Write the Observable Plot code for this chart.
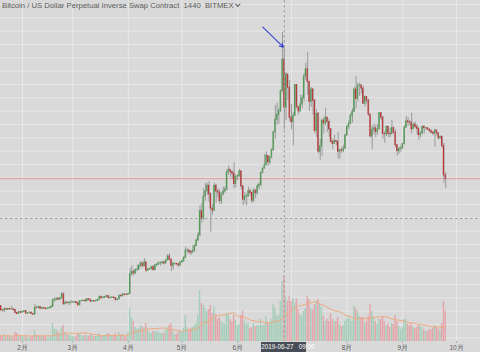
<!DOCTYPE html>
<html><head><meta charset="utf-8">
<script src="https://cdn.jsdelivr.net/npm/d3@7"></script>
<script src="https://cdn.jsdelivr.net/npm/@observablehq/plot@0.6"></script>
<style>
html,body{margin:0;padding:0;background:#d9d9d9;}
#wrap{position:relative;width:480px;height:352px;overflow:hidden;font-family:"Liberation Sans",Arial,sans-serif;}
#wrap svg{position:absolute;left:0;top:0;}
#title{position:absolute;left:2px;top:1px;font-size:7.7px;color:#5a5a5a;white-space:pre;}
#title .chev{display:inline-block;width:2.6px;height:2.6px;border-right:1px solid #5a5a5a;border-bottom:1px solid #5a5a5a;transform:rotate(45deg);margin-left:2px;position:relative;top:-2px;}
#tip{position:absolute;top:342px;height:10px;width:45px;background:#474d57;color:#fff;font-size:6.3px;line-height:10px;text-align:center;white-space:pre;}
</style></head><body><div id="wrap"><div id="title"></div><div id="tip"></div></div>
<script>
const title = "Bitcoin / US Dollar Perpetual Inverse Swap Contract  1440  BITMEX";
const startDate = "2019-01-20";
const firstOpen = 3690;
const close = [
 3535,3530,3575,3555,3580,3565,3570,3545,3435,3400,3460,3440,
 3470,3500,3410,3420,3445,3395,3370,3630,3625,3660,3590,3610,3600,3580,3600,3620,3670,3900,3915,3970,3930,3980,4130,3760,3820,3800,3810,3820,
 3830,3840,3800,3720,3870,3880,3890,3870,3950,3930,3860,3880,3870,3880,3920,4030,3990,4000,4030,4070,3990,4000,4010,3990,3920,3940,4080,4060,4130,4115,4110,
 4150,4890,4970,4910,5040,5050,5200,5290,5190,5330,5020,5070,5080,5160,5040,5220,5240,5290,5290,5330,5290,5400,5550,5430,5200,5270,5270,5260,5210,5330,
 5370,5490,5770,5770,5720,5690,5750,5940,6150,6350,7250,6980,7800,7990,8200,7880,7350,7270,8200,7990,7950,7630,7880,7990,8060,8700,8800,8720,8660,8270,8550,
 8560,8740,8180,7680,7790,7810,8000,7930,7640,8020,7920,8170,8230,8690,8840,8970,9320,9080,9270,9530,10210,10680,10860,11000,11750,12930,11140,12370,11880,10750,
 10590,10830,11980,11160,10990,11250,11480,12300,12570,12100,11350,11810,11390,10260,10900,9480,9680,10640,10530,10760,10590,10320,9850,9770,9880,9850,9480,9530,9510,9590,10090,
 10410,10530,10820,10980,11810,11460,11950,11960,11850,11280,11530,11390,10870,10050,10300,10360,10220,10320,10920,10760,10140,10130,10410,10150,10140,10370,10190,9720,9500,9580,9600,
 9760,10380,10620,10580,10570,10320,10490,10410,10340,10100,10160,10410,10360,10360,10310,10260,10190,10160,10270,10170,9990,10030,9690,8590,8470
];
const high = [
 3700,3560,3620,3600,3600,3600,3680,3590,3560,3445,3490,3500,
 3490,3520,3505,3440,3460,3450,3410,3750,3655,3670,3665,3640,3640,3610,3630,3650,3700,3980,4000,4000,3990,4000,4200,4190,3860,3840,3840,3900,
 3860,3860,3850,3830,3885,3910,3910,3950,3970,3960,3940,3895,3890,3930,3940,4080,4050,4050,4050,4090,4080,4030,4030,4030,4010,3960,4100,4090,4150,4140,4130,
 4170,5100,5200,5050,5080,5230,5260,5360,5300,5470,5340,5100,5110,5180,5200,5260,5300,5350,5350,5350,5350,5430,5630,5650,5450,5350,5300,5300,5280,5350,
 5400,5550,5900,5840,5800,5780,5950,6000,6200,6450,7450,7550,8100,8300,8300,8350,7950,7500,8300,8250,8100,8050,7950,8150,8170,8800,8950,8800,8750,9050,8600,
 8620,8820,8750,8200,7950,7880,8150,8080,7980,8100,8040,8260,8330,8700,8880,9380,9480,9330,9290,9600,10250,11200,11300,11100,11800,13950,13350,12450,12350,12150,
 11250,10950,12000,12000,11170,11600,11600,12400,12800,13200,12100,11900,11850,11450,11050,10950,9950,10700,10750,11100,10700,10680,10350,9950,10100,9900,10200,9580,9650,9720,10130,
 10450,10660,10920,11080,11900,12300,12050,12050,12000,11950,11560,11550,11450,10850,10450,10520,10480,10500,10950,10950,10800,10240,10450,10420,10350,10650,10400,10300,9750,9650,9700,
 9800,10450,10800,10750,10650,10920,10560,10600,10500,10380,10230,10450,10450,10390,10380,10340,10290,10250,10330,10300,10180,10080,10060,9800,8700
];
const low = [
 3480,3460,3450,3520,3535,3540,3550,3500,3400,3370,3390,3420,
 3430,3455,3390,3390,3410,3385,3355,3360,3580,3590,3575,3560,3570,3550,3565,3595,3610,3650,3840,3900,3890,3920,3970,3720,3740,3780,3700,3770,
 3800,3810,3770,3700,3710,3850,3860,3840,3860,3890,3830,3840,3840,3850,3880,3915,3960,3970,3980,4000,3950,3960,3980,3970,3870,3900,3930,4020,4040,4080,4080,
 4100,4140,4800,4830,4880,4970,5040,5130,5120,5160,4960,4990,5040,5030,5000,5020,5180,5230,5190,5260,5230,5270,5390,5380,4980,5040,5220,5200,5150,5180,
 5300,5340,5480,5650,5620,5590,5700,5700,5920,6120,6300,6800,6900,7620,7850,7600,6450,7100,7240,7550,7750,7500,7500,7820,7920,8000,8600,8500,8450,8100,8120,
 8390,8520,8060,7450,7510,7450,7770,7820,7530,7580,7720,7850,8050,8180,8650,8850,8970,8930,8980,9200,9510,9950,10470,10500,10950,11700,10300,10650,11400,10600,
 10300,9700,10800,11050,10850,10970,11100,11350,12150,11600,11000,11150,10850,10150,10000,9400,9150,9300,10150,10450,10200,10020,9800,9560,9770,9700,9200,9200,9420,9450,9600,
 10070,10310,10490,10560,10950,11080,11350,11550,11650,11250,11150,11260,10800,10000,9550,10100,10000,10100,10300,10650,9950,9800,10050,10000,10000,10100,10150,9620,9320,9380,9450,
 9560,9740,10360,10430,10450,10150,10320,10350,10120,9900,10000,10130,10150,10280,10270,10190,10150,10080,9640,10070,9910,9940,9620,8300,8100
];
// volume, in 100M USD contracts
const volume = [
 6,5,7,5,6,5,4,4,9,8,6,6,
 5,4,6,4,4,5,5,11,6,5,6,5,5,5,4,4,6,18,12,12,10,8,14,16,9,7,6,6,
 5,4,5,8,7,6,5,6,6,5,6,6,5,5,5,8,6,5,6,7,8,6,5,5,8,6,9,6,7,5,5,
 9,33,24,20,14,12,13,16,14,14,18,12,9,8,10,10,10,9,8,8,8,11,14,16,18,10,7,7,9,10,
 9,13,26,14,12,13,14,16,18,26,51,38,36,33,30,32,36,28,34,27,22,24,20,18,17,28,27,22,20,26,21,
 16,17,26,30,20,17,18,13,14,18,15,16,15,22,16,17,25,19,18,22,37,33,25,26,40,60,65,44,40,45,
 40,43,38,43,32,27,25,30,33,45,42,33,31,37,40,42,38,34,25,20,22,20,28,22,20,20,24,17,15,16,20,
 22,25,22,20,35,33,30,25,24,24,18,20,25,37,30,24,20,17,22,22,25,20,16,18,14,18,17,26,20,15,12,
 14,22,22,17,16,18,14,13,14,16,15,14,12,10,10,12,12,13,16,14,13,11,18,40,30
];
const monthTicks = ["2019-02-01","2019-03-01","2019-04-01","2019-05-01","2019-06-01","2019-07-01","2019-08-01","2019-09-01","2019-10-01"];
const monthLabels = ["2月","3月","4月","5月","6月","7月","8月","9月","10月"];
const xDomain = ["2019-01-19T17:30:00Z","2019-10-14T09:10:00Z"];
const priceDomain = [2362, 15150];
const volumeDomain = [0, 341];
const gridStep = 500;
const crossDate = "2019-06-27";
const crossPrice = 6975;
const crossTimeOffsetHours = 9;
const arrowFrom = {date: "2019-06-15", price: 14150};
const arrowTo = {date: "2019-06-26T12:00:00Z", price: 13400};

if ([high, low, volume].some(a => a.length !== close.length)) throw new Error("length mismatch " + [close.length, high.length, low.length, volume.length]);

const data = close.map((c, i) => {
  const open = i ? close[i - 1] : firstOpen;
  return {
    date: d3.utcDay.offset(new Date(startDate), i),
    open, close: c,
    high: Math.max(high[i], open, c),
    low: Math.min(low[i], open, c),
    volume: volume[i]
  };
});
const up = d => d.close >= d.open;
const down = d => d.close < d.open;
const tickDates = monthTicks.map(d => new Date(d));
const xd = xDomain.map(d => new Date(d));
const cross = new Date(crossDate);
const lastClose = close[close.length - 1];
const x1 = d => d3.utcHour.offset(d.date, -12);
const x2 = d => d3.utcHour.offset(d.date, 12);

const W = 480, H = 352, MB = 11;
const TIP_W = 45;
const common = {width: W, height: H, marginTop: 0, marginRight: 0, marginLeft: 0, marginBottom: MB};
const xs = Plot.scale({x: {type: "utc", domain: xd, range: [0, W]}});
const cx = xs.apply(cross);
// labels hidden under the crosshair's date box
const labelFor = d => {
  const i = tickDates.findIndex(t => +t === +d);
  return Math.abs(xs.apply(d) - cx) < TIP_W / 2 + 6 ? "" : monthLabels[i];
};

const price = Plot.plot({
  ...common,
  style: {background: "#d9d9d9", fontFamily: "Liberation Sans, Arial, sans-serif"},
  x: {type: "utc", domain: xd, axis: null},
  y: {domain: priceDomain, axis: null},
  marks: [
    Plot.gridY(d3.range(Math.ceil(priceDomain[0] / gridStep) * gridStep, priceDomain[1], gridStep), {stroke: "#e7e7e7", strokeOpacity: 1}),
    Plot.gridX(tickDates, {stroke: "#e7e7e7", strokeOpacity: 1}),
    Plot.axisX(tickDates, {tickSize: 2, tickPadding: 1.5, fontSize: 6.5, color: "#5c5c5c", stroke: "#b0b0b0", tickFormat: labelFor}),
    Plot.ruleY([crossPrice], {stroke: "#9c9c9c", strokeDasharray: "2.5,2.5"}),
    Plot.ruleY([lastClose], {stroke: "#e39a9a", strokeWidth: 1}),
    Plot.ruleX(data, {x: "date", y1: "low", y2: "high", stroke: "#8a8a8a", strokeWidth: 0.8}),
    Plot.rect(data, {filter: up, x1, x2, y1: "open", y2: "close", fill: "#519c55", insetLeft: 0.25, insetRight: 0.25, insetTop: -0.5, insetBottom: -0.5}),
    Plot.rect(data, {filter: down, x1, x2, y1: "open", y2: "close", fill: "#b73838", insetLeft: 0.25, insetRight: 0.25, insetTop: -0.5, insetBottom: -0.5}),
    Plot.arrow([{f: arrowFrom, t: arrowTo}], {
      x1: d => new Date(d.f.date), y1: d => d.f.price, x2: d => new Date(d.t.date), y2: d => d.t.price,
      stroke: "#3340d0", strokeWidth: 1.1, headLength: 6
    })
  ]
});

const vol = Plot.plot({
  ...common,
  style: {background: "transparent"},
  x: {type: "utc", domain: xd, axis: null},
  y: {domain: volumeDomain, axis: null},
  marks: [
    Plot.rect(data, {filter: up, x1, x2, y1: 0, y2: "volume", fill: "#9fcdb6", fillOpacity: 0.92, insetLeft: 0.2, insetRight: 0.2}),
    Plot.rect(data, {filter: down, x1, x2, y1: 0, y2: "volume", fill: "#e69fa6", fillOpacity: 0.92, insetLeft: 0.2, insetRight: 0.2}),
    Plot.lineY(data, Plot.windowY({k: 20, anchor: "end", reduce: "mean"}, {x: "date", y: "volume", stroke: "#f0a97c", strokeWidth: 1})),
    Plot.ruleX([cross], {stroke: "#9c9c9c", strokeDasharray: "2.5,2.5"})
  ]
});

const wrap = document.getElementById("wrap");
wrap.insertBefore(vol, wrap.firstChild);
wrap.insertBefore(price, wrap.firstChild);

const t = document.getElementById("title");
t.textContent = title;
const chev = document.createElement("span"); chev.className = "chev"; t.appendChild(chev);

const tip = document.getElementById("tip");
tip.style.left = (cx - TIP_W / 2) + "px";
tip.textContent = d3.utcFormat("%Y-%m-%d   %H:%M")(d3.utcHour.offset(cross, crossTimeOffsetHours));
</script></body></html>
